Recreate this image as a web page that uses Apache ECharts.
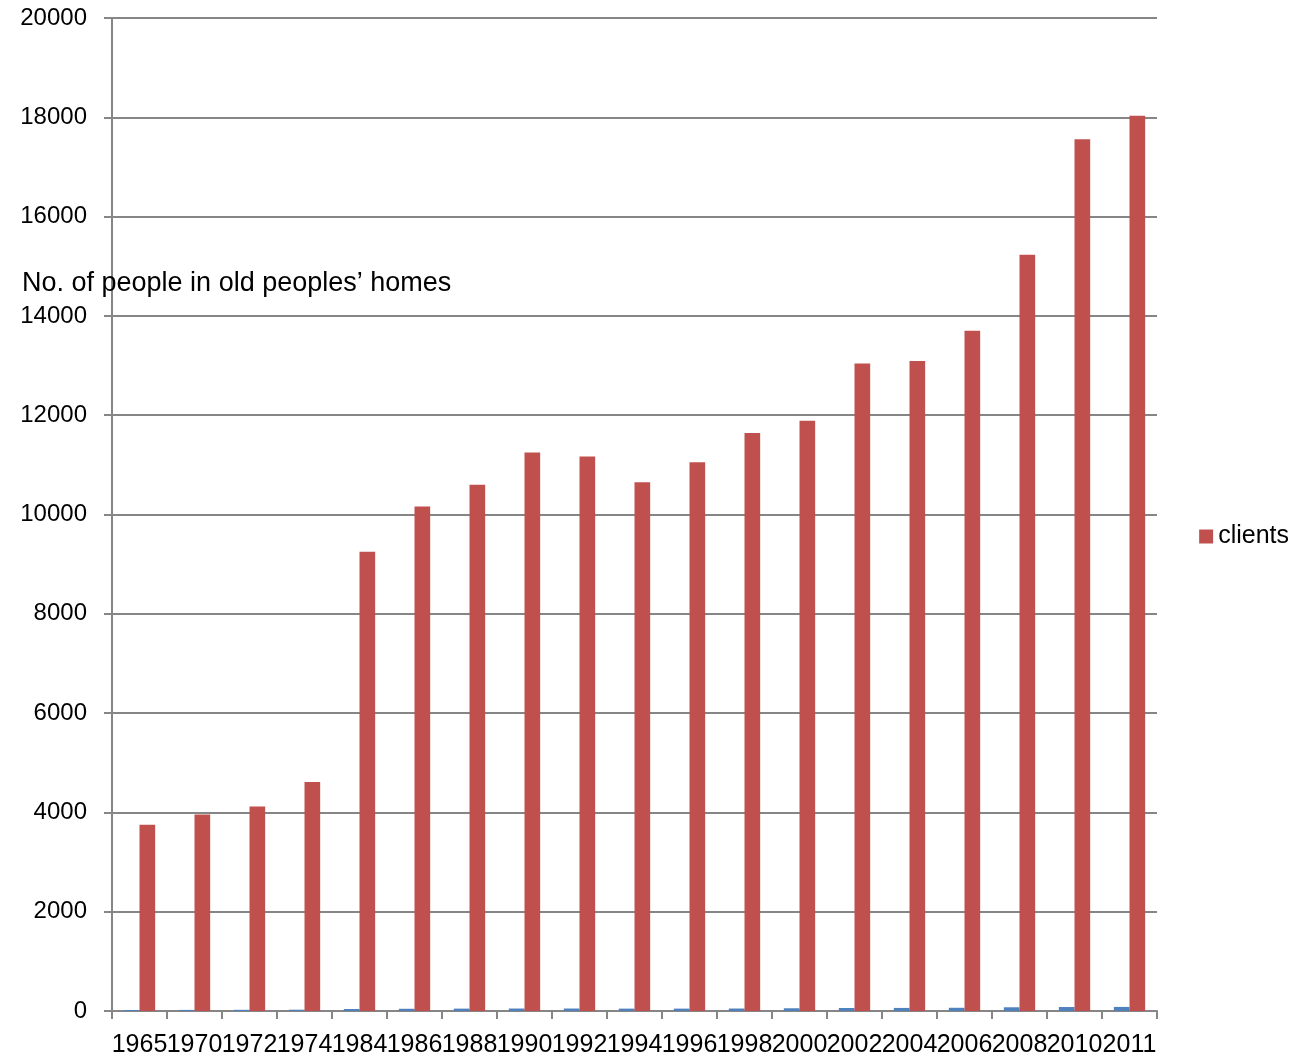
<!DOCTYPE html>
<html>
<head>
<meta charset="utf-8">
<script src="https://cdn.jsdelivr.net/npm/echarts@6/dist/echarts.min.js"></script>
<style>
  html, body { margin: 0; padding: 0; background: #fff; }
  #chart { width: 1297px; height: 1061px; }
</style>
</head>
<body>
<div id="chart"></div>
<script>
// years on the x axis
const years = ["1965", "1970", "1972", "1974", "1984", "1986", "1988", "1990", "1992", "1994",
  "1996", "1998", "2000", "2002", "2004", "2006", "2008", "2010", "2011"];

// number of clients (red bars)
const clients = [3750, 3960, 4120, 4610, 9250, 10160, 10600, 11250, 11170, 10650,
  11050, 11640, 11890, 13040, 13090, 13700, 15230, 17560, 18030];

// small blue series, not in the legend
const homes = [20, 22, 24, 26, 40, 45, 48, 50, 50, 48,
  48, 50, 55, 60, 62, 65, 75, 80, 82];

const font = "Liberation Sans";

const chart = echarts.init(document.getElementById("chart"));
chart.setOption({
  animation: false,
  textStyle: { fontFamily: font },
  title: {
    text: "No. of people in old peoples\u2019 homes",
    left: 17,
    top: 265,
    textStyle: { fontFamily: font, fontSize: 27, fontWeight: "normal", color: "#000" }
  },
  legend: {
    data: ["clients"],
    right: 3,
    top: 519,
    icon: "rect",
    itemWidth: 14,
    itemHeight: 14,
    itemGap: 7,
    textStyle: { fontFamily: font, fontSize: 25, color: "#000" }
  },
  grid: { left: 112, right: 140, top: 18, bottom: 50 },
  xAxis: {
    type: "category",
    data: years,
    axisLine: { lineStyle: { color: "#868686", width: 2 } },
    axisTick: { show: true, length: 8, lineStyle: { color: "#868686", width: 2 } },
    axisLabel: {
      interval: 0,
      hideOverlap: false,
      color: "#000",
      fontSize: 25,
      margin: 22,
      fontFamily: font
    }
  },
  yAxis: {
    type: "value",
    min: 0,
    max: 20000,
    interval: 2000,
    axisLine: { show: true, lineStyle: { color: "#868686", width: 2 } },
    axisTick: { show: true, length: 8, lineStyle: { color: "#868686", width: 2 } },
    splitLine: { lineStyle: { color: "#868686", width: 2 } },
    axisLabel: {
      color: "#000",
      fontSize: 24,
      margin: 25,
      fontFamily: font,
      formatter: (v) => String(v)
    }
  },
  series: [
    {
      name: "series1",
      type: "bar",
      data: homes,
      barGap: "0%",
      barCategoryGap: "43%",
      itemStyle: { color: "#4F81BD" }
    },
    {
      name: "clients",
      type: "bar",
      data: clients,
      barGap: "0%",
      barCategoryGap: "43%",
      itemStyle: { color: "#C0504D" }
    }
  ]
});
</script>
</body>
</html>
